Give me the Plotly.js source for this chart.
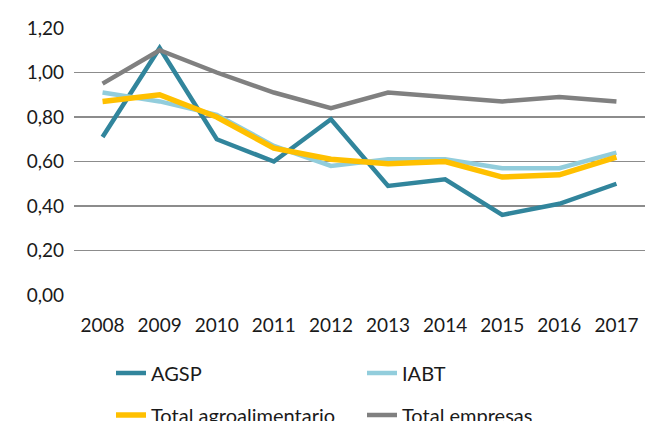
<!DOCTYPE html>
<html><head><meta charset="utf-8">
<script src="https://cdn.plot.ly/plotly-3.0.1.min.js"></script>
<style>html,body{margin:0;padding:0;background:#fff}#chart{width:654px;height:421px}</style>
</head><body><div id="chart"></div>
<script>
const years = ['2008','2009','2010','2011','2012','2013','2014','2015','2016','2017'];
const agsp = [0.71,1.11,0.70,0.60,0.79,0.49,0.52,0.36,0.41,0.50];
const iabt = [0.91,0.87,0.81,0.67,0.58,0.61,0.61,0.57,0.57,0.64];
const totalAgro = [0.87,0.90,0.80,0.66,0.61,0.59,0.60,0.53,0.54,0.62];
const totalEmpresas = [0.95,1.10,1.00,0.91,0.84,0.91,0.89,0.87,0.89,0.87];
const yTicks = [0,0.2,0.4,0.6,0.8,1.0,1.2];

const tickFont = {family:'Lato, "Noto Sans", sans-serif', size:19, color:'#1a1a1a'};
const legFont = {family:'Lato, "Noto Sans", sans-serif', size:20, color:'#1a1a1a'};
const traces = [
  {x:years,y:agsp,name:'AGSP',mode:'lines',line:{color:'#31859C',width:4.5},legend:'legend'},
  {x:years,y:iabt,name:'IABT',mode:'lines',line:{color:'#92CDDC',width:4.5},legend:'legend'},
  {x:years,y:totalAgro,name:'Total agroalimentario',mode:'lines',line:{color:'#FFC000',width:5.5},legend:'legend2'},
  {x:years,y:totalEmpresas,name:'Total empresas',mode:'lines',line:{color:'#808080',width:4.5},legend:'legend2'}
];
const legendBase = {orientation:'h',xref:'container',yref:'container',xanchor:'left',yanchor:'middle',font:legFont,
  entrywidth:206,entrywidthmode:'pixels',bgcolor:'rgba(0,0,0,0)',traceorder:'normal'};
const layout = {
  width:654,height:421,
  margin:{l:74,r:9,t:28,b:126},
  paper_bgcolor:'#fff',plot_bgcolor:'#fff',
  font:tickFont,
  separators:',.',
  showlegend:true,
  xaxis:{type:'category',range:[-0.5,9.5],showgrid:false,zeroline:false,showline:false,ticks:'',
    ticklabelstandoff:17,tickfont:tickFont,fixedrange:true},
  yaxis:{range:[0,1.2],tickvals:yTicks,tickformat:'.2f',showgrid:true,gridcolor:'#8c8c8c',gridwidth:1.8,
    zeroline:false,showline:false,ticks:'',ticklabelstandoff:9,tickfont:tickFont,fixedrange:true},
  legend:Object.assign({},legendBase,{x:111/654,y:(421-373)/421}),
  legend2:Object.assign({},legendBase,{x:111/654,y:(421-415)/421})
};
Plotly.newPlot('chart',traces,layout,{displayModeBar:false,staticPlot:true});
</script></body></html>
